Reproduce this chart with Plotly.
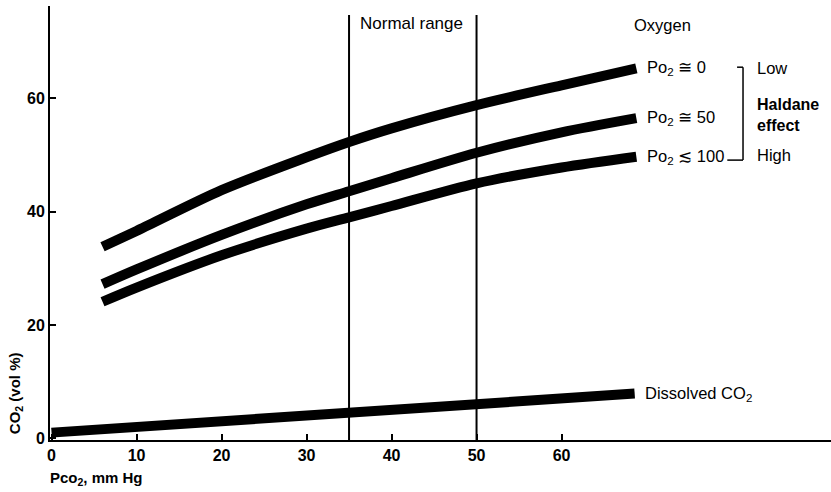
import plotly.graph_objects as go

# Data
pco2_curves = [6.0, 10, 20, 30, 35, 40, 50, 60, 68.8]
co2_po2_0 = [33.8, 36.6, 43.8, 49.6, 52.3, 54.7, 58.8, 62.3, 65.3]
co2_po2_50 = [27.2, 29.8, 35.9, 41.3, 43.6, 45.9, 50.4, 54.0, 56.5]
co2_po2_100 = [24.1, 26.6, 32.3, 37.0, 39.0, 41.0, 45.0, 47.8, 49.7]

pco2_dissolved = [0, 10, 20, 30, 40, 50, 60, 68.6]
co2_dissolved = [1.0, 2.0, 3.0, 4.0, 5.0, 6.2, 7.1, 7.9]

normal_range = [35, 50]
x_ticks = [0, 10, 20, 30, 40, 50, 60]
y_ticks = [0, 20, 40, 60]

curve_labels = ["Po<sub>2</sub> ≅ 0", "Po<sub>2</sub> ≅ 50", "Po<sub>2</sub> ≲ 100"]

FONT = "Liberation Sans, Arial, sans-serif"
LW = 10
TS = 16.5

fig = go.Figure()
for ys in [co2_po2_0, co2_po2_50, co2_po2_100]:
    fig.add_trace(go.Scatter(x=pco2_curves, y=ys, mode="lines",
                             line=dict(color="black", width=LW, shape="spline", smoothing=0.8),
                             hoverinfo="skip", showlegend=False))
fig.add_trace(go.Scatter(x=pco2_dissolved, y=co2_dissolved, mode="lines",
                         line=dict(color="black", width=LW),
                         hoverinfo="skip", showlegend=False))

# normal range lines
for xv in normal_range:
    fig.add_shape(type="line", x0=xv, x1=xv, y0=-0.3, y1=74.7, xref="x", yref="y",
                  line=dict(color="black", width=2))

ann = []
ann.append(dict(x=42.4, y=73.3, text="Normal range", showarrow=False,
                font=dict(size=17, color="black", family=FONT)))
ann.append(dict(x=71.9, y=73.0, text="Oxygen", showarrow=False,
                font=dict(size=TS, color="black", family=FONT)))
for ys, lab in zip([co2_po2_0, co2_po2_50, co2_po2_100], curve_labels):
    ann.append(dict(x=pco2_curves[-1] + 1.0, y=ys[-1], text=lab, showarrow=False,
                    xanchor="left", font=dict(size=TS, color="black", family=FONT)))
ann.append(dict(x=pco2_dissolved[-1] + 1.0, y=co2_dissolved[-1], text="Dissolved CO<sub>2</sub>",
                showarrow=False, xanchor="left", font=dict(size=TS, color="black", family=FONT)))
ann.append(dict(x=82.8, y=65.4, text="Low", showarrow=False, xanchor="left",
                font=dict(size=TS, color="black", family=FONT)))
ann.append(dict(x=82.8, y=57.05, text="<b>Haldane<br>effect</b>", showarrow=False, xanchor="left",
                align="left", font=dict(size=16, color="black", family=FONT)))
ann.append(dict(x=82.8, y=50.0, text="High", showarrow=False, xanchor="left",
                font=dict(size=TS, color="black", family=FONT)))
# axis titles
ann.append(dict(xref="paper", yref="paper", x=-0.0448, y=0.108, text="<b>CO<sub>2</sub> (vol %)</b>",
                xanchor="center", yanchor="middle",
                textangle=-90, showarrow=False, font=dict(size=15, color="black", family=FONT)))
ann.append(dict(xref="paper", yref="paper", x=-0.002, y=-0.0876, text="<b>Pco<sub>2</sub>, mm Hg</b>",
                xanchor="left", yanchor="middle",
                showarrow=False, font=dict(size=15, color="black", family=FONT)))

# bracket
fig.add_shape(type="line", x0=81.35, x1=81.35, y0=49.1, y1=65.5, line=dict(color="black", width=1.5))
fig.add_shape(type="line", x0=80.65, x1=81.35, y0=65.5, y1=65.5, line=dict(color="black", width=1.5))
fig.add_shape(type="line", x0=79.5, x1=81.35, y0=49.1, y1=49.1, line=dict(color="black", width=1.5))

fig.update_layout(
    width=831, height=492,
    margin=dict(l=50, r=0, t=6, b=52),
    plot_bgcolor="white", paper_bgcolor="white",
    annotations=ann,
    font=dict(family=FONT, color="black"),
    xaxis=dict(range=[-0.18, 91.7], tickvals=x_ticks, ticktext=[f"<b>{v}</b>" for v in x_ticks],
               ticks="inside", ticklen=6, tickwidth=2, tickcolor="black", automargin=False,
               showline=True, linecolor="black", linewidth=2, showgrid=False, zeroline=False,
               tickfont=dict(size=16, family=FONT, color="black")),
    yaxis=dict(range=[-0.3, 76.3], tickvals=y_ticks, ticktext=[f"<b>{v}</b>" for v in y_ticks],
               ticks="inside", ticklen=6, tickwidth=2, tickcolor="black", automargin=False,
               showline=True, linecolor="black", linewidth=2, showgrid=False, zeroline=False,
               tickfont=dict(size=16, family=FONT, color="black")),
)

fig.write_html("out.html", post_script="document.body.style.margin='0';",
               config={"displayModeBar": False})
